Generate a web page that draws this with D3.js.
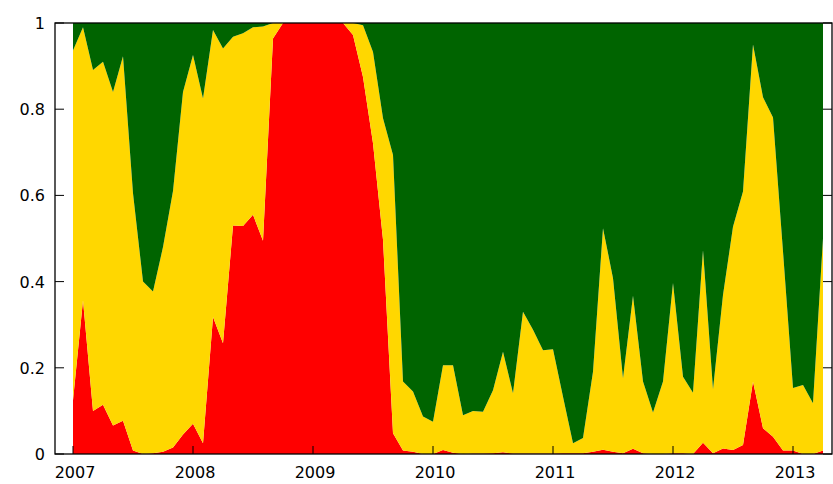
<!DOCTYPE html>
<html>
<head>
<meta charset="utf-8">
<script src="https://cdn.jsdelivr.net/npm/d3@7"></script>
<style>
  body { margin: 0; background: #fff; }
  svg text { font-family: "DejaVu Sans", sans-serif; font-size: 16px; fill: #000; }
</style>
</head>
<body>
<div id="chart"></div>
<script>
// monthly points, index 0 = Jan 2007
var redShare = [0.125, 0.357, 0.10, 0.114, 0.066, 0.077, 0.008, 0, 0.002, 0.005,
  0.015, 0.045, 0.07, 0.025, 0.318, 0.257, 0.53, 0.529, 0.555, 0.495,
  0.964, 1, 1, 1, 1, 1, 1, 1, 0.972, 0.875,
  0.721, 0.497, 0.048, 0.008, 0.005, 0, 0, 0.009, 0.003, 0,
  0.001, 0.001, 0.002, 0.004, 0.001, 0.001, 0.001, 0.001, 0.001, 0.002,
  0.002, 0.002, 0.005, 0.01, 0.005, 0.002, 0.012, 0.002, 0, 0,
  0.002, 0.002, 0, 0.026, 0.002, 0.013, 0.009, 0.021, 0.168, 0.06,
  0.04, 0.008, 0.008, 0, 0, 0.008];
// top of the yellow band (red + yellow)
var notGreen = [0.936, 0.99, 0.891, 0.91, 0.84, 0.923, 0.605, 0.40, 0.377, 0.48,
  0.61, 0.84, 0.926, 0.825, 0.984, 0.941, 0.968, 0.976, 0.99, 0.992,
  1, 1, 1, 1, 1, 1, 1, 1, 1, 0.995,
  0.933, 0.779, 0.694, 0.168, 0.145, 0.087, 0.075, 0.206, 0.206, 0.09,
  0.10, 0.098, 0.148, 0.237, 0.141, 0.33, 0.288, 0.241, 0.243, 0.133,
  0.025, 0.037, 0.191, 0.524, 0.408, 0.176, 0.367, 0.168, 0.096, 0.168,
  0.397, 0.179, 0.142, 0.473, 0.15, 0.369, 0.527, 0.609, 0.95, 0.828,
  0.781, 0.47, 0.153, 0.16, 0.118, 0.50];
var yearLabels = ['2007', '2008', '2009', '2010', '2011', '2012', '2013'];
var yTicks = [0, 0.2, 0.4, 0.6, 0.8, 1];
var colors = { red: '#ff0000', yellow: '#ffd700', green: '#006400' };

var W = 833, H = 484;
var x = d3.scaleLinear().domain([-1.8, 75.9]).range([55, 832]);
var y = d3.scaleLinear().domain([0, 1]).range([454, 23]);

var rows = redShare.map(function (r, i) {
  return { i: i, red: r, yellow: notGreen[i] - r, green: 1 - notGreen[i] };
});
var stack = d3.stack().keys(['red', 'yellow', 'green']);
var series = stack(rows);

var svg = d3.select('#chart').append('svg').attr('width', W).attr('height', H);

var area = d3.area()
  .x(function (d) { return x(d.data.i); })
  .y0(function (d) { return y(d[0]); })
  .y1(function (d) { return y(d[1]); });

svg.selectAll('path.band').data(series).join('path')
  .attr('class', 'band')
  .attr('fill', function (s) { return colors[s.key]; })
  .attr('d', area);

// frame
svg.append('rect')
  .attr('x', x.range()[0]).attr('y', y(1))
  .attr('width', x.range()[1] - x.range()[0]).attr('height', y(0) - y(1))
  .attr('fill', 'none').attr('stroke', '#000').attr('stroke-width', 1.3);

// y axis labels + inward ticks
yTicks.forEach(function (t) {
  svg.append('line').attr('x1', 55).attr('x2', 64).attr('y1', y(t)).attr('y2', y(t))
    .attr('stroke', '#000');
  svg.append('line').attr('x1', 823).attr('x2', 832).attr('y1', y(t)).attr('y2', y(t))
    .attr('stroke', '#000');
  svg.append('text').attr('x', 45).attr('y', y(t) + 6)
    .attr('text-anchor', 'end').text(d3.format('~g')(t));
});

// x axis labels + ticks
yearLabels.forEach(function (lab, k) {
  var px = x(k * 12);
  svg.append('line').attr('x1', px).attr('x2', px).attr('y1', 454).attr('y2', 446)
    .attr('stroke', '#000');
  svg.append('text').attr('x', px + 2).attr('y', 478)
    .attr('text-anchor', 'middle').text(lab);
});
</script>
</body>
</html>
